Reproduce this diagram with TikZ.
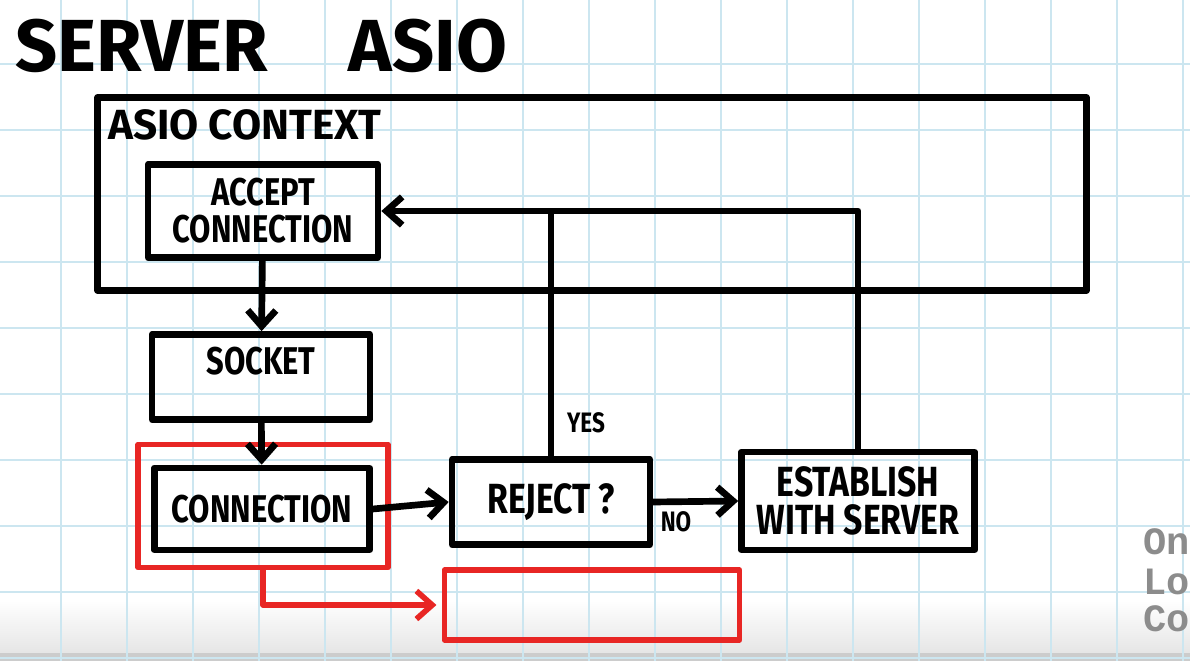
\documentclass[tikz,border=0pt]{standalone}
\usepackage{fontspec}
\setmainfont{Fira Sans}[FakeStretch=0.8]
\newfontfamily\widefont{Fira Sans}
\newfontfamily\logofont{Liberation Mono}
\usetikzlibrary{arrows.meta}
\definecolor{gridblue}{RGB}{204,230,240}
\definecolor{penred}{RGB}{232,38,36}

\begin{document}
\begin{tikzpicture}[x=0.02cm,y=-0.02cm,every text node part/.style={align=center}]
\tikzstyle{every node}+=[inner sep=0pt]
\tikzstyle{pen}=[line width=3.8pt,line join=round,line cap=round]
\tikzstyle{box}=[pen,draw,rectangle]
\tikzstyle{redbox}=[draw=penred,line width=3.2pt,line join=round,rectangle]
\tikzstyle{arr}=[pen,-{Straight Barb[length=9pt,width=16pt]}]
\tikzstyle{redarr}=[draw=penred,line width=3.2pt,line join=round,line cap=round,-{Straight Barb[length=9pt,width=16pt]}]
\tikzstyle{hand}=[font=\bfseries\fontsize{22}{21}\selectfont]
\tikzstyle{bighand}=[font=\bfseries\fontsize{24}{22}\selectfont]
\tikzstyle{small}=[font=\bfseries\fontsize{16}{16}\selectfont]
\tikzstyle{logo}=[text=black!45,font=\logofont\bfseries\fontsize{22}{22}\selectfont,anchor=base west]
\useasboundingbox (0,0) rectangle (1190,661);
\clip (0,0) rectangle (1190,661);
\fill[white] (0,0) rectangle (1190,661);
\shade[top color=white,bottom color=black!10] (0,600) rectangle (1190,653);
\fill[black!20] (0,653) rectangle (1190,661);
\foreach \gx in {61,127,...,1190}
  \draw[gridblue,line width=0.9pt] (\gx,0) -- (\gx,661);
\foreach \gy in {64,130,...,661}
  \draw[gridblue,line width=0.9pt] (0,\gy) -- (1190,\gy);
\node[anchor=base west,font=\widefont\bfseries\fontsize{42}{42}\selectfont] (title) at (15,72) {SERVER\hskip 1.1em ASIO};
\node[box,minimum width=19.78cm,minimum height=3.86cm] (ctx) at (592,194) {};
\node[anchor=base west,font=\widefont\bfseries\fontsize{24}{24}\selectfont] (ctxlabel) at (108,140) {ASIO CONTEXT};
\node[box,hand,minimum width=4.6cm,minimum height=1.86cm] (accept) at (263,211) {ACCEPT\\CONNECTION};
\node[box,hand,minimum width=4.36cm,text height=0.8cm,text depth=0.9cm] (socket) at (261,377) {SOCKET};
\node[redbox,minimum width=5cm,minimum height=2.46cm] (red) at (263,506) {};
\node[box,hand,minimum width=4.3cm,minimum height=1.64cm] (conn) at (262,509) {CONNECTION};
\node[box,bighand,minimum width=3.96cm,minimum height=1.7cm] (reject) at (551,502) {REJECT ?};
\node[box,bighand,minimum width=4.66cm,minimum height=1.96cm] (estab) at (858,501) {ESTABLISH\\WITH SERVER};
\node[redbox,minimum width=5.9cm,minimum height=1.4cm] (redempty) at (592,605) {};
\node[small] (yes) at (586,423) {YES};
\node[small] (no) at (676,522) {NO};
\draw[arr] (accept) -- (socket);
\draw[arr] (socket) -- (conn);
\draw[arr] (conn.east) -- (reject.west);
\draw[arr] (reject.east) -- (estab.west);
\draw[arr] (reject.north) |- (accept.east);
\draw[pen] (estab.north) |- (reject.north |- accept.east);
\draw[redarr,shorten >=3pt] (red.south) |- (redempty.west);
\node[logo] (one) at (1143,555) {One};
\node[logo] (lone) at (1143,595) {Lone};
\node[logo] (coder) at (1143,632) {Coder};
\end{tikzpicture}
\end{document}
